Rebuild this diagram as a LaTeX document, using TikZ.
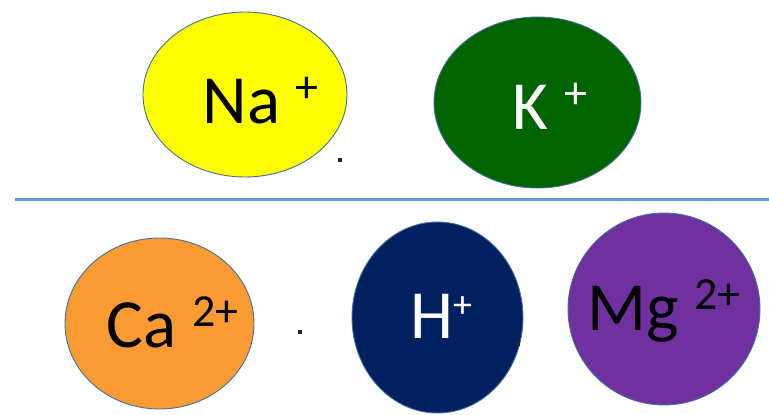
\documentclass[tikz,border=0pt]{standalone}
\usepackage{fontspec}
\setmainfont{Carlito}
\usepackage{tikz}
\usetikzlibrary{shapes.geometric}
\usepackage{xcolor}
\definecolor{naYellow}{HTML}{FFFF00}
\definecolor{kGreen}{HTML}{006400}
\definecolor{caOrange}{HTML}{F99A33}
\definecolor{hNavy}{HTML}{002060}
\definecolor{mgPurple}{HTML}{7030A0}
\definecolor{rimBlue}{HTML}{41719C}
\definecolor{ruleBlue}{HTML}{5B9BD5}
\newcommand{\ionsup}[2][46]{\raisebox{21pt}{\fontsize{#1}{#1}\selectfont #2}}

\begin{document}
\begin{tikzpicture}[
  x=1pt, y=-1pt,
  every node/.style={inner sep=0pt, outer sep=0pt},
  ion/.style={ellipse, draw=rimBlue, line width=0.9pt, fill=#1},
  sym/.style={anchor=base, font=\fontsize{69}{69}\selectfont},
  dotmark/.style={fill=black!85, minimum size=4pt, inner sep=0pt},
  divider/.style={draw=ruleBlue, line width=3pt},
]
\useasboundingbox (0,0) rectangle (769,415);
% ---- top row: monovalent ions ----
\node[ion=naYellow, minimum width=204pt, minimum height=165pt] at (245,94.5) (na) {};
\node[ion=kGreen, minimum width=207pt, minimum height=171pt] at (537.5,102.5) (k) {};
\node[sym] at (260.5,123) (natxt) {Na \ionsup{+}};
\node[sym, text=white] at (550,129) (ktxt) {K \ionsup{+}};
\node[dotmark] at (340,160) (dota) {};
% ---- separator ----
\coordinate (ruleL) at (15,199);
\coordinate (ruleR) at (769,199);
\draw[divider] (ruleL) -- (ruleR);
% ---- bottom row: calcium, hydrogen, magnesium ----
\node[ion=caOrange, minimum width=189pt, minimum height=171pt] at (159.5,323.5) (ca) {};
\node[ion=hNavy, minimum width=171pt, minimum height=191pt] at (437.5,317.5) (h) {};
\node[ion=mgPurple, minimum width=192pt, minimum height=192pt] at (664,309) (mg) {};
\node[sym] at (172.5,347) (catxt) {Ca \ionsup{2+}};
\node[sym, text=white] at (441,338) (htxt) {H\ionsup[38]{+}};
\node[sym] at (664,330) (mgtxt) {Mg \ionsup{2+}};
\node[dotmark] at (300,332) (dotb) {};
\node[dotmark] at (518,344) (dotc) {};
\end{tikzpicture}
\end{document}
